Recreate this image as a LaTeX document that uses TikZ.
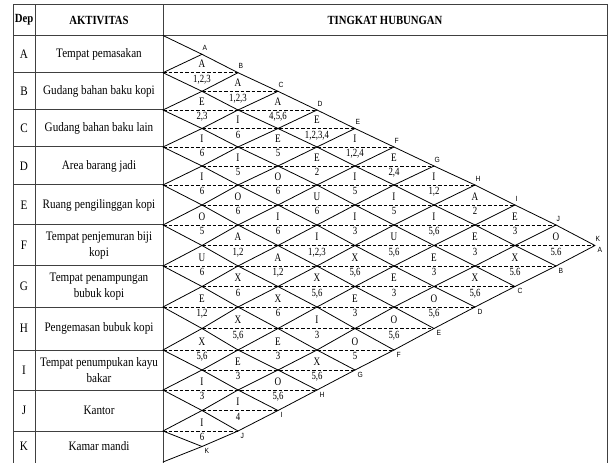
\documentclass[tikz,border=0pt]{standalone}
\usepackage{fontspec}
\setmainfont{Liberation Serif}[FakeStretch=0.86]
\newfontfamily\cellfont{Liberation Serif}[FakeStretch=0.8]
\newfontfamily\vlabfont{Liberation Sans}[FakeStretch=0.9]
\tikzset{
  tbl/.style={draw=black!75, line width=1bp},
  gline/.style={black, line width=0.8bp, line cap=round},
  dline/.style={black, line width=0.8bp, dash pattern=on 3.5bp off 2bp},
  lettr/.style={font=\cellfont\fontsize{11.5}{11.5}\selectfont, inner sep=0pt, anchor=base, yshift=4.8bp},
  reasn/.style={font=\cellfont\fontsize{11}{11}\selectfont, inner sep=0pt, anchor=base, yshift=-9.8bp},
  vtop/.style={font=\vlabfont\fontsize{7.5}{7.5}\selectfont, inner sep=0pt, anchor=south west, xshift=0.5bp, yshift=3.5bp},
  vbot/.style={font=\vlabfont\fontsize{7.5}{7.5}\selectfont, inner sep=0pt, anchor=north west, xshift=2.5bp, yshift=-2bp},
  rowtxt/.style={font=\fontsize{13}{16}\selectfont, align=center, inner sep=0pt},
  deptxt/.style={font=\fontsize{13}{13}\selectfont, inner sep=0pt},
  headtxt/.style={font=\bfseries\fontsize{12.5}{12.5}\selectfont, inner sep=0pt}
}
\begin{document}
\begin{tikzpicture}[x=1bp,y=-1bp]
\useasboundingbox (0,0) rectangle (608,463);
% grid coordinates
\foreach \c/\x in {0/163,1/202,2/238,3/278,4/317,5/355,6/394,7/434,8/475,9/515,10/556,11/595}{
  \foreach \h/\y in {0/35.5,1/54.3,2/72.7,3/91.3,4/110,5/128.5,6/147,7/166,8/185,9/205,10/225,11/245.5,12/266,13/286.5,14/307,15/328.5,16/350,17/370,18/390,19/410.5,20/431,21/446.5,22/462}{
    \coordinate (g-\c-\h) at (\x,\y);
  }
}
% table
\draw[tbl] (13,4.5) -- (607,4.5);
\draw[tbl] (13,35.5) -- (607,35.5);
\foreach \x in {13,35,163,607}{ \draw[tbl] (\x,4.5) -- (\x,463); }
\foreach \h in {2,4,...,20}{ \draw[tbl] (13,0 |- g-0-\h) -- (g-0-\h); }
% header
\node[headtxt] (hdep) at (24,20) {Dep};
\node[headtxt] (hakt) at (99,20) {AKTIVITAS};
\node[headtxt] (hting) at (385,20) {TINGKAT HUBUNGAN};
% rows
\foreach \h/\d/\t in {1/A/{Tempat pemasakan},3/B/{Gudang bahan baku kopi},5/C/{Gudang bahan baku lain},7/D/{Area barang jadi},9/E/{Ruang pengilinggan kopi},11/F/{Tempat penjemuran biji\\kopi},13/G/{Tempat penampungan\\bubuk kopi},15/H/{Pengemasan bubuk kopi},17/I/{Tempat penumpukan kayu\\bakar},19/J/{Kantor},21/K/{Kamar mandi}}{
  \node[deptxt] (dep-\d) at (24,0 |- g-0-\h) {\d};
  \node[rowtxt] (akt-\d) at (99,0 |- g-0-\h) {\t};
}
% solid diagonal segments
\foreach \c in {0,...,10}{
  \pgfmathtruncatemacro\hmin{\c}
  \pgfmathtruncatemacro\hnext{\c+2}
  \pgfmathtruncatemacro\hmax{22-\c}
  \pgfmathtruncatemacro\cn{\c+1}
  \foreach \h in {\hmin,\hnext,...,\hmax}{
    \pgfmathtruncatemacro\hu{\h+1}
    \pgfmathtruncatemacro\hd{\h-1}
    \ifnum\h<\numexpr21-\c\relax \draw[gline] (g-\c-\h) -- (g-\cn-\hu);\fi
    \ifnum\h>\numexpr\c+1\relax \draw[gline] (g-\c-\h) -- (g-\cn-\hd);\fi
  }
}
% dashed horizontals
\foreach \h in {2,...,20}{
  \pgfmathtruncatemacro\a{mod(\h,2)}
  \pgfmathtruncatemacro\b{min(\h,22-\h)}
  \draw[dline] (g-\a-\h) -- (g-\b-\h);
}
% vertex labels
\foreach \c/\l in {1/A,2/B,3/C,4/D,5/E,6/F,7/G,8/H,9/I,10/J,11/K}{
  \node[vtop] (vt-\l) at (g-\c-\c) {\l};
}
\foreach \c/\h/\l in {11/11/A,10/12/B,9/13/C,8/14/D,7/15/E,6/16/F,5/17/G,4/18/H,3/19/I,2/20/J,1/21/K}{
  \node[vbot] (vb-\l) at (g-\c-\h) {\l};
}
% cell contents
\foreach \c/\h/\l/\r in {
1/2/A/{1,2,3}, 1/4/E/{2,3}, 1/6/I/6, 1/8/I/6, 1/10/O/5, 1/12/U/6, 1/14/E/{1,2}, 1/16/X/{5,6}, 1/18/I/3, 1/20/I/6,
2/3/A/{1,2,3}, 2/5/I/6, 2/7/I/5, 2/9/O/6, 2/11/A/{1,2}, 2/13/X/6, 2/15/X/{5,6}, 2/17/E/3, 2/19/I/4,
3/4/A/{4,5,6}, 3/6/E/5, 3/8/O/6, 3/10/I/6, 3/12/A/{1,2}, 3/14/X/6, 3/16/E/3, 3/18/O/{5,6},
4/5/E/{1,2,3,4}, 4/7/E/2, 4/9/U/6, 4/11/I/{1,2,3}, 4/13/X/{5,6}, 4/15/I/3, 4/17/X/{5,6},
5/6/I/{1,2,4}, 5/8/I/5, 5/10/I/3, 5/12/X/{5,6}, 5/14/E/3, 5/16/O/5,
6/7/E/{2,4}, 6/9/I/5, 6/11/U/{5,6}, 6/13/E/3, 6/15/O/{5,6},
7/8/I/{1,2}, 7/10/I/{5,6}, 7/12/E/3, 7/14/O/{5,6},
8/9/A/2, 8/11/E/3, 8/13/X/{5,6},
9/10/E/3, 9/12/X/{5.6},
10/11/O/{5.6}}{
  \node[lettr] (t-\c-\h) at (g-\c-\h) {\l};
  \node[reasn] (n-\c-\h) at (g-\c-\h) {\r};
}
\end{tikzpicture}
\end{document}
